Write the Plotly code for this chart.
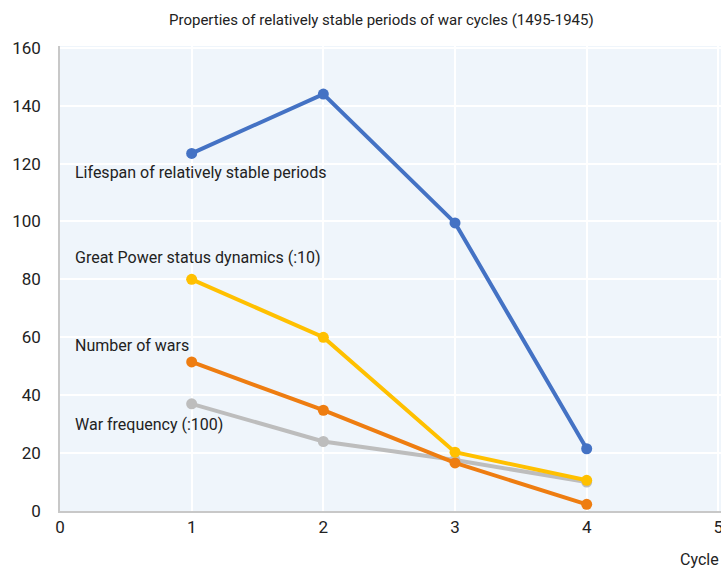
import plotly.graph_objects as go

# Dades llegides del gràfic
cycles = [1, 2, 3, 4]
lifespan = [123.5, 144, 99.5, 21.5]
great_power = [80, 60, 20.3, 10.6]
num_wars = [51.5, 34.8, 16.6, 2.3]
war_freq = [37, 24, 17.6, 10]

series_names = [
    "Lifespan of relatively stable periods",
    "Great Power status dynamics (:10)",
    "Number of wars",
    "War frequency (:100)",
]
label_y = [117, 87.5, 57, 30]
colors = ["#4472C4", "#FFC000", "#EE7D11", "#BDBDBD"]

FONT = "Roboto, Liberation Sans, sans-serif"
PLOT_H = 570 - 46 - 59
PLOT_W = 721 - 60


def main():
    fig = go.Figure()
    # ordre de dibuix: gris al fons
    for vals, name, col in reversed(list(zip(
            [lifespan, great_power, num_wars, war_freq], series_names, colors))):
        fig.add_trace(go.Scatter(
            x=cycles, y=vals, name=name, mode="lines+markers",
            line=dict(color=col, width=4),
            marker=dict(color=col, size=11),
            showlegend=False,
        ))

    for name, ly in zip(series_names, label_y):
        fig.add_annotation(
            x=0.095, y=ly, xref="x", yref="y", text=name, showarrow=False,
            xanchor="left", yanchor="middle",
            font=dict(family=FONT, size=16, color="#222222"),
        )

    # títol
    fig.add_annotation(
        x=(381 - 60) / PLOT_W, y=(511 - 20) / PLOT_H, xref="paper", yref="paper",
        text="Properties of relatively stable periods of war cycles (1495-1945)",
        showarrow=False, xanchor="center", yanchor="middle",
        font=dict(family=FONT, size=15, color="#222222"),
    )
    # títol eix x, a la cantonada inferior dreta
    fig.add_annotation(
        x=1, y=(511 - 559) / PLOT_H, xref="paper", yref="paper",
        text="Cycle", showarrow=False, xanchor="right", yanchor="middle",
        font=dict(family=FONT, size=16, color="#222222"),
    )

    fig.update_layout(
        width=721, height=570,
        margin=dict(l=60, r=0, t=46, b=59),
        paper_bgcolor="white",
        plot_bgcolor="#EFF5FB",
        font=dict(family=FONT, size=17, color="#222222"),
    )
    fig.update_xaxes(
        range=[0, 5.02], tickmode="linear", tick0=0, dtick=1,
        showgrid=True, gridcolor="white", gridwidth=1.5,
        showline=True, linecolor="#C8C8C8", linewidth=2,
        zeroline=False, automargin=False, ticklabeloverflow="allow",
    )
    fig.update_yaxes(
        range=[0, 160.6], tickmode="linear", tick0=0, dtick=20,
        showgrid=True, gridcolor="white", gridwidth=1.5,
        showline=True, linecolor="#C8C8C8", linewidth=1.5,
        zeroline=False, ticklabelstandoff=14, automargin=False,
    )

    # treu el marge per defecte del body i la barra d'eines
    fig.write_html(
        "out.html",
        config={"displayModeBar": False},
        post_script="document.body.style.margin='0px';",
    )


if __name__ == "__main__":
    main()
